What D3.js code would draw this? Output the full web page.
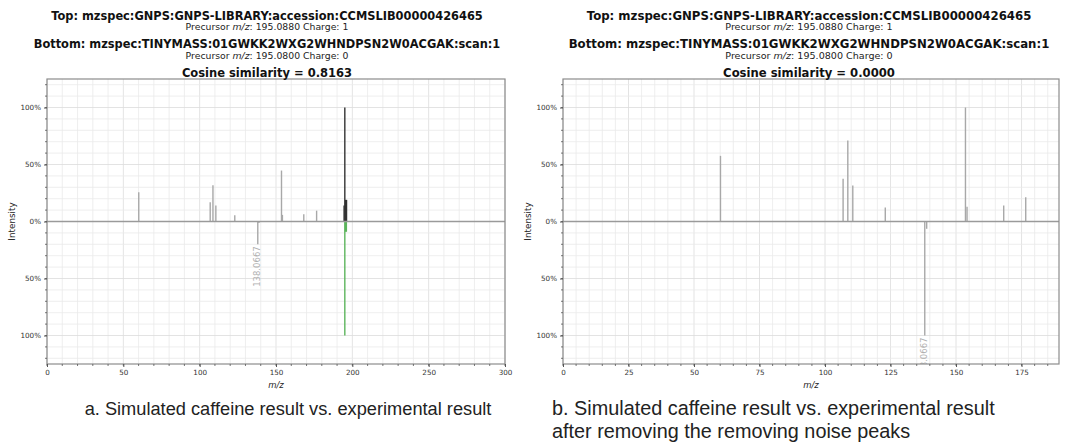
<!DOCTYPE html>
<html>
<head>
<meta charset="utf-8">
<script src="https://cdn.jsdelivr.net/npm/d3@7"></script>
<style>
  body { margin: 0; background: #fff; }
  svg { display: block; }
</style>
</head>
<body>
<div id="chart"></div>
<script>
// peaks: [m/z, relative intensity]
const leftTopPeaks = [[60.1, 0.257], [106.9, 0.168], [108.7, 0.318], [110.6, 0.141], [123.0, 0.055],
  [153.6, 0.447], [154.2, 0.058], [168.2, 0.063], [176.6, 0.095]];
const leftTopMatched = [[194.6, 0.14], [195.08, 1.0], [195.6, 0.19], [196.2, 0.19]];
const leftBottomPeaks = [[138.0667, 0.2], [138.8, 0.013]];
const leftBottomMatched = [[195.08, 1.0], [195.6, 0.09], [196.1, 0.09]];

const rightTopPeaks = [[60.1, 0.576], [106.9, 0.374], [108.7, 0.711], [110.6, 0.316], [123.0, 0.123],
  [153.6, 1.0], [154.2, 0.13], [168.2, 0.14], [176.6, 0.213]];
const rightBottomPeaks = [[138.0667, 1.0], [138.8, 0.064]];

const annotations = [[138.0667, '138.0667']];
const yTickValues = [-1, -0.5, 0, 0.5, 1];
const yTickLabels = ['100%', '50%', '0%', '50%', '100%'];

const titleTop = 'Top: mzspec:GNPS:GNPS-LIBRARY:accession:CCMSLIB00000426465';
const titleBottom = 'Bottom: mzspec:TINYMASS:01GWKK2WXG2WHNDPSN2W0ACGAK:scan:1';
const precursorTop = [': 195.0880 Charge: 1'];
const precursorBottom = [': 195.0800 Charge: 0'];

const panels = [
  { left: 47, right: 505, titleX: 267, scale: 1, cosScale: 1, xMax: 300, xMajor: 50, xMinor: 10, cosine: '0.8163',
    top: leftTopPeaks, topMatched: leftTopMatched, bottom: leftBottomPeaks, bottomMatched: leftBottomMatched,
    caption: ['a. Simulated caffeine result vs. experimental result'], captionX: 288, captionWidth: 407 },
  { left: 563, right: 1059, titleX: 809, scale: 1.03, cosScale: 1.01, xMax: 189.3, xMajor: 25, xMinor: 5, cosine: '0.0000',
    top: rightTopPeaks, topMatched: [], bottom: rightBottomPeaks, bottomMatched: [],
    caption: ['b. Simulated caffeine result vs. experimental result', 'after removing the removing noise peaks'], captionX: 552, captionWidth: 443 }
];

const dimension = { width: 1075, height: 445, plotTop: 79, plotBottom: 364 };

const svg = d3.select('#chart')
  .append('svg')
  .attr('width', dimension.width)
  .attr('height', dimension.height);

const font = 'DejaVu Sans, sans-serif';

panels.forEach((p, i) => {
  const g = svg.append('g');

  const xScale = d3.scaleLinear().domain([0, p.xMax]).range([p.left, p.right]);
  const yScale = d3.scaleLinear().domain([-1.25, 1.25]).range([dimension.plotBottom, dimension.plotTop]);

  const clipId = 'clip' + i;
  svg.append('clipPath').attr('id', clipId)
    .append('rect')
    .attr('x', p.left).attr('y', dimension.plotTop)
    .attr('width', p.right - p.left).attr('height', dimension.plotBottom - dimension.plotTop);

  // grid
  const xMinorTicks = d3.range(0, p.xMax + 0.001, p.xMinor);
  const yMinorTicks = d3.range(-1.2, 1.21, 0.1);
  const grid = g.append('g');
  grid.selectAll('.vx').data(xMinorTicks).join('line')
    .attr('x1', d => xScale(d)).attr('x2', d => xScale(d))
    .attr('y1', dimension.plotTop).attr('y2', dimension.plotBottom)
    .attr('stroke', d => Math.abs(d % p.xMajor) < 0.001 ? '#dcdcdc' : '#eaeaea')
    .attr('stroke-width', 0.8);
  grid.selectAll('.hy').data(yMinorTicks).join('line')
    .attr('x1', p.left).attr('x2', p.right)
    .attr('y1', d => yScale(d)).attr('y2', d => yScale(d))
    .attr('stroke', d => Math.abs(Math.round(d * 10) % 5) === 0 ? '#dcdcdc' : '#eaeaea')
    .attr('stroke-width', 0.8);

  // peaks
  const peaks = g.append('g').attr('clip-path', `url(#${clipId})`);
  const drawPeaks = (data, sign, color, w) => {
    peaks.append('g').selectAll('line').data(data).join('line')
      .attr('x1', d => xScale(d[0])).attr('x2', d => xScale(d[0]))
      .attr('y1', yScale(0)).attr('y2', d => yScale(sign * d[1]))
      .attr('stroke', color).attr('stroke-width', w);
  };
  drawPeaks(p.top, 1, '#a8a8a8', 1.4);
  drawPeaks(p.bottom, -1, '#a8a8a8', 1.4);
  drawPeaks(p.topMatched, 1, '#333333', 1.4);
  drawPeaks(p.bottomMatched, -1, '#5cb45c', 1.4);

  // annotation under the bottom peak
  peaks.selectAll('.ann').data(annotations).join('text')
    .attr('transform', d => {
      const pk = p.bottom.find(b => b[0] === d[0]);
      return `translate(${xScale(d[0])},${yScale(-pk[1]) + 2}) rotate(-90)`;
    })
    .attr('text-anchor', 'end')
    .attr('dominant-baseline', 'middle')
    .attr('font-family', font).attr('font-size', 8.5)
    .attr('fill', '#b0b0b0')
    .text(d => d[1]);

  // zero line
  g.append('line')
    .attr('x1', p.left).attr('x2', p.right)
    .attr('y1', yScale(0)).attr('y2', yScale(0))
    .attr('stroke', '#9a9a9a').attr('stroke-width', 1.5);

  // frame
  g.append('rect')
    .attr('x', p.left).attr('y', dimension.plotTop)
    .attr('width', p.right - p.left).attr('height', dimension.plotBottom - dimension.plotTop)
    .attr('fill', 'none').attr('stroke', '#8c8c8c').attr('stroke-width', 1.2);

  // x axis
  const xAxis = d3.axisBottom(xScale)
    .tickValues(d3.range(0, p.xMax + 0.001, p.xMajor))
    .tickSize(3).tickPadding(3);
  const xg = g.append('g').attr('transform', `translate(0,${dimension.plotBottom})`).call(xAxis);
  xg.select('.domain').remove();
  xg.selectAll('.tick line').attr('stroke', '#555');
  xg.selectAll('.tick text').attr('font-family', font).attr('font-size', 7.2).attr('fill', '#333');
  g.append('g').selectAll('line').data(xMinorTicks).join('line')
    .attr('x1', d => xScale(d)).attr('x2', d => xScale(d))
    .attr('y1', dimension.plotBottom).attr('y2', dimension.plotBottom + 2)
    .attr('stroke', '#555').attr('stroke-width', 0.8);

  // y axis
  const yAxis = d3.axisLeft(yScale)
    .tickValues(yTickValues)
    .tickFormat((d, k) => yTickLabels[k])
    .tickSize(3).tickPadding(3);
  const yg = g.append('g').attr('transform', `translate(${p.left},0)`).call(yAxis);
  yg.select('.domain').remove();
  yg.selectAll('.tick line').attr('stroke', '#555');
  yg.selectAll('.tick text').attr('font-family', font).attr('font-size', 7.2).attr('fill', '#333');
  g.append('g').selectAll('line').data(yMinorTicks).join('line')
    .attr('x1', p.left - 2).attr('x2', p.left)
    .attr('y1', d => yScale(d)).attr('y2', d => yScale(d))
    .attr('stroke', '#555').attr('stroke-width', 0.8);

  // axis labels
  g.append('text')
    .attr('transform', `translate(${p.left - 32},${yScale(0)}) rotate(-90)`)
    .attr('text-anchor', 'middle')
    .attr('font-family', font).attr('font-size', 8.8).attr('fill', '#222')
    .text('Intensity');
  g.append('text')
    .attr('x', (p.left + p.right) / 2).attr('y', dimension.plotBottom + 24)
    .attr('text-anchor', 'middle')
    .attr('font-family', font).attr('font-size', 8.5).attr('font-style', 'italic').attr('fill', '#222')
    .text('m/z');

  // titles
  const s = p.scale;
  const titles = g.append('g').attr('font-family', font).attr('text-anchor', 'middle').attr('fill', '#111');
  titles.append('text').attr('x', p.titleX).attr('y', 19.5)
    .attr('font-size', 11.4 * s).attr('font-weight', 'bold').text(titleTop);
  const precursor = (y, rest) => {
    const t = titles.append('text').attr('x', p.titleX).attr('y', y)
      .attr('font-size', 9.3 * s).attr('fill', '#222');
    t.append('tspan').text('Precursor ');
    t.append('tspan').attr('font-style', 'italic').text('m/z');
    t.append('tspan').text(rest[0]);
  };
  precursor(29.5, precursorTop);
  titles.append('text').attr('x', p.titleX).attr('y', 48)
    .attr('font-size', 11.4 * s).attr('font-weight', 'bold').text(titleBottom);
  precursor(58.5, precursorBottom);
  titles.append('text').attr('x', p.titleX).attr('y', 77)
    .attr('font-size', 11.5 * p.cosScale).attr('font-weight', 'bold').text('Cosine similarity = ' + p.cosine);

  // caption: size fitted so the first line spans the measured width
  const cap = svg.append('g')
    .attr('font-family', "'Liberation Sans Narrow', 'Liberation Sans', Arial, sans-serif")
    .attr('font-size', 18).attr('fill', '#222');
  const lines = p.caption.map((c, k) => cap.append('text')
    .attr('x', p.captionX).attr('y', 414.5 + k * 23)
    .attr('text-anchor', i === 0 ? 'middle' : 'start')
    .text(c));
  const w0 = lines[0].node().getComputedTextLength();
  if (w0 > 0) cap.attr('font-size', 18 * p.captionWidth / w0);
});
</script>
</body>
</html>
